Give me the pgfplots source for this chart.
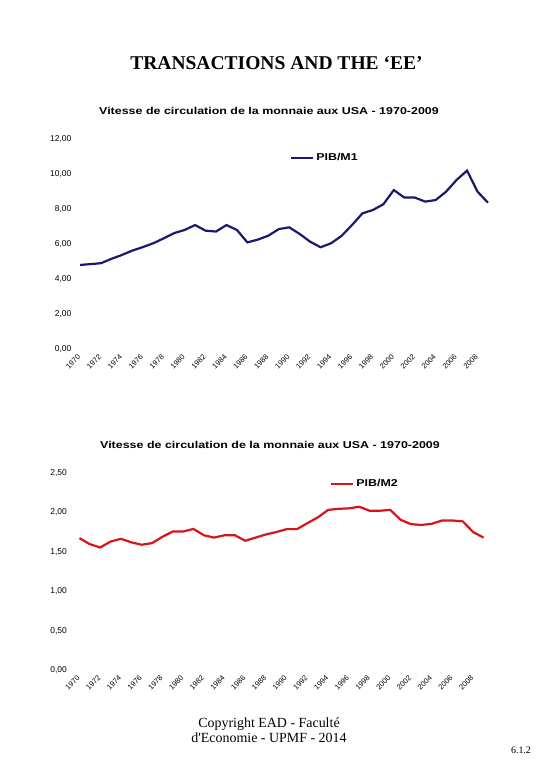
\documentclass[border=0pt]{standalone}
\usepackage{pgfplots}
\pgfplotsset{compat=1.18}
\usepackage{fontspec}
\setmainfont{Liberation Serif}
\newfontfamily\arial{Liberation Sans}
\definecolor{navyline}{RGB}{25,25,112}
\definecolor{redline}{RGB}{215,20,25}
\pgfplotsset{
  velostyle/.style={
    scale only axis,
    axis line style={draw=none},
    tick style={draw=none},
    major tick length=0pt,
    xmin=1969.5, xmax=2009.5,
    xtick={1970,1972,...,2008},
    xticklabels={1970,1972,1974,1976,1978,1980,1982,1984,1986,1988,1990,1992,1994,1996,1998,2000,2002,2004,2006,2008},
    xticklabel style={rotate=45, anchor=east, font=\arial\fontsize{7.5}{8}\selectfont, xshift=-2bp, yshift=-4bp},
    /pgf/number format/assume math mode=true,
    /pgf/number format/fixed,
    /pgf/number format/fixed zerofill,
    /pgf/number format/precision=2,
    /pgf/number format/use comma,
    yticklabel style={font=\arial\fontsize{8.5}{9}\selectfont},
    legend style={draw=none, fill=none, font=\arial\bfseries\fontsize{10}{11}\selectfont, inner sep=0pt},
    legend image code/.code={\draw[#1] (0bp,0bp) -- (22bp,0bp);},
    clip=false,
  }
}
\begin{document}
\begin{tikzpicture}[x=1bp,y=1bp]
\useasboundingbox (0,0) rectangle (540,780);
\node[font=\bfseries\fontsize{19.6}{21}\selectfont] at (276.5,717) {TRANSACTIONS AND THE ‘EE’};
\node[font=\arial\bfseries\fontsize{10}{11}\selectfont] at (269,669) {\scalebox{1.25}[1]{Vitesse de circulation de la monnaie aux USA - 1970-2009}};
\node[font=\arial\bfseries\fontsize{10}{11}\selectfont] at (270,335) {\scalebox{1.25}[1]{Vitesse de circulation de la monnaie aux USA - 1970-2009}};
\node[font=\fontsize{14}{15.5}\selectfont, align=center] at (269,50) {Copyright EAD - Faculté\\d\textquotesingle Economie - UPMF - 2014};
\node[font=\fontsize{10}{11}\selectfont] at (521,30) {6.1.2};

\begin{axis}[velostyle,
  at={(74.8bp,430.5bp)}, anchor=south west,
  width=418.4bp, height=210bp,
  ymin=0, ymax=12, ytick={0,2,...,12},
  legend style={at={(0.514,0.912)}, anchor=west},
]
\addplot[color=navyline, line width=2.2bp] coordinates {
(1970,4.83) (1971,4.88) (1972,4.93) (1973,5.18) (1974,5.40) (1975,5.65) (1976,5.85) (1977,6.07) (1978,6.35) (1979,6.65)
(1980,6.83) (1981,7.11) (1982,6.79) (1983,6.74) (1984,7.11) (1985,6.83) (1986,6.12) (1987,6.28) (1988,6.50) (1989,6.88)
(1990,6.98) (1991,6.60) (1992,6.16) (1993,5.84) (1994,6.07) (1995,6.49) (1996,7.11) (1997,7.78) (1998,7.97) (1999,8.30)
(2000,9.11) (2001,8.68) (2002,8.68) (2003,8.45) (2004,8.54) (2005,9.02) (2006,9.69) (2007,10.22) (2008,9.02) (2009,8.39)
};
\addlegendentry{\scalebox{1.25}[1]{PIB/M1}}
\end{axis}

\begin{axis}[velostyle,
  at={(74.3bp,109.5bp)}, anchor=south west,
  width=414.4bp, height=197.75bp,
  ymin=0, ymax=2.5, ytick={0,0.5,...,2.5},
  yticklabel style={xshift=-4bp},
  legend style={at={(0.617,0.943)}, anchor=west},
]
\addplot[color=redline, line width=2.2bp] coordinates {
(1970,1.673) (1971,1.597) (1972,1.555) (1973,1.63) (1974,1.665) (1975,1.62) (1976,1.59) (1977,1.61) (1978,1.69) (1979,1.757)
(1980,1.757) (1981,1.79) (1982,1.71) (1983,1.68) (1984,1.71) (1985,1.71) (1986,1.64) (1987,1.68) (1988,1.72) (1989,1.75)
(1990,1.787) (1991,1.787) (1992,1.863) (1993,1.935) (1994,2.03) (1995,2.044) (1996,2.05) (1997,2.07) (1998,2.02) (1999,2.02)
(2000,2.03) (2001,1.905) (2002,1.85) (2003,1.84) (2004,1.855) (2005,1.896) (2006,1.896) (2007,1.885) (2008,1.75) (2009,1.68)
};
\addlegendentry{\scalebox{1.25}[1]{PIB/M2}}
\end{axis}
\end{tikzpicture}
\end{document}
